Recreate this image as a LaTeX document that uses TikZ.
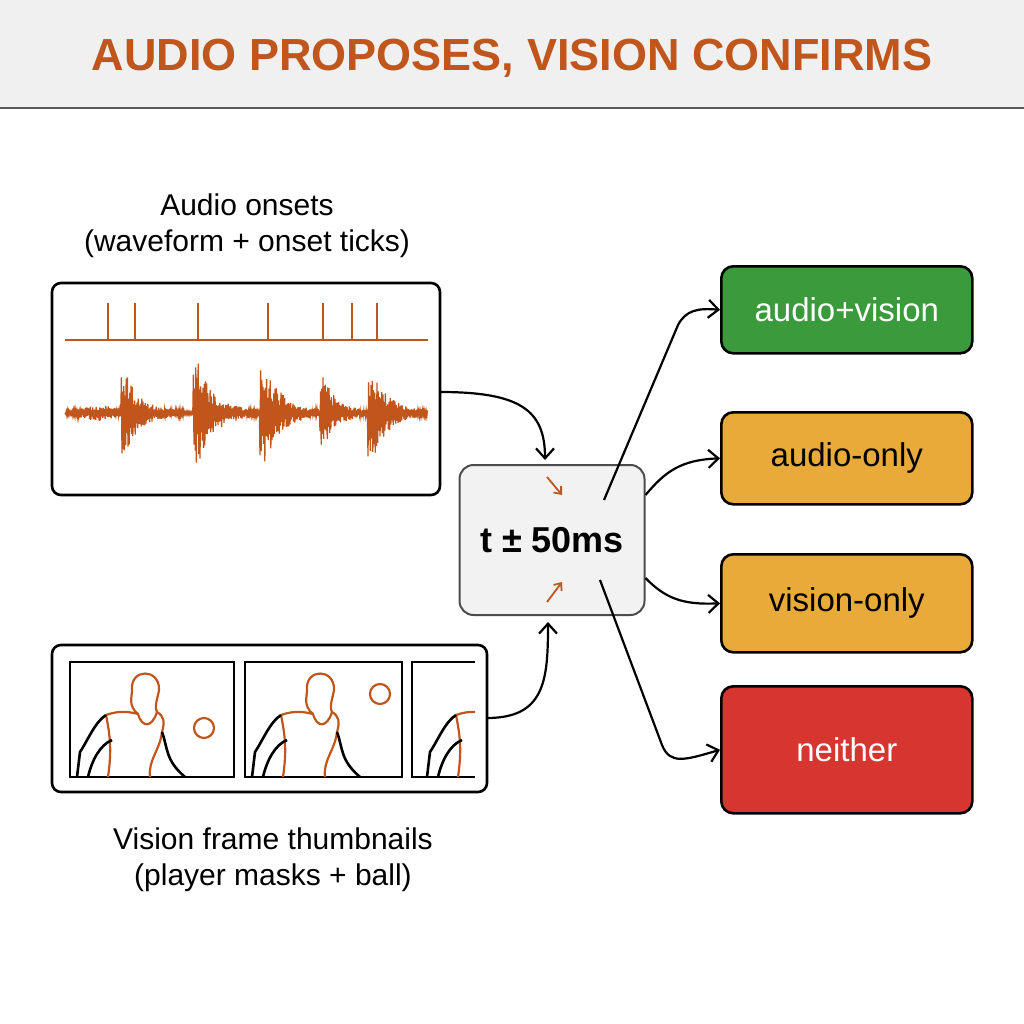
\documentclass[tikz,border=0pt]{standalone}
\usepackage{fontspec}
\setmainfont{Liberation Sans}
\usetikzlibrary{arrows.meta}
\definecolor{orng}{HTML}{C0561C}
\definecolor{grn}{HTML}{3A9A3C}
\definecolor{amb}{HTML}{E8AA38}
\definecolor{rd}{HTML}{D63530}
\begin{document}
\begin{tikzpicture}[x=1pt,y=-1pt,
 box/.style={draw=black,line width=2.6pt,rounded corners=9pt},
 obox/.style={draw=black,line width=2.6pt,rounded corners=12pt,minimum width=251pt,anchor=north west,font=\fontsize{33}{36}\selectfont},
 conn/.style={line width=2.2pt,-{Straight Barb[length=10pt,width=18pt,line width=2.2pt]}},
 lbl/.style={font=\fontsize{30}{36}\selectfont,align=center},
 body/.style={line width=2.2pt,orng},
 arm/.style={line width=2.6pt,black}]
\useasboundingbox (0,0) rectangle (1024,1024);
\fill[gray!12] (0,0) rectangle (1024,108);
\draw[line width=1.2pt,gray!70!black] (0,108) -- (1024,108);
\node[font=\bfseries\fontsize{45}{54}\selectfont,text=orng] (title) at (512,58) {AUDIO PROPOSES, VISION CONFIRMS};
% labels
\node[lbl] (al) at (247,226) {Audio onsets\\(waveform + onset ticks)};
\node[lbl] (vl) at (273,860) {Vision frame thumbnails\\(player masks + ball)};
% audio box
\draw[box] (52,283) rectangle (440,495);
\coordinate (aout) at (440,392);
\draw[orng,line width=2.2pt] (65,340) -- (428,340);
\foreach \t in {108,135,198,268,323,352,377} \draw[orng,line width=2.2pt] (\t,340) -- (\t,303);
\pgfmathsetseed{7}
\pgfmathdeclarefunction{bur}{4}{\pgfmathparse{(#1>#2-4)*(#1<#2+60)*#3*exp(-max(#1-#2,0)/#4)}}
\pgfmathdeclarefunction{env}{1}{\pgfmathparse{2+bur(#1,125,38,16)+bur(#1,197,52,18)+bur(#1,264,50,17)+bur(#1,324,34,14)+bur(#1,372,45,16)+6*exp(-((#1-100)/20)^2)}}
\draw[orng,line width=1.3pt] (65,413) \foreach \i in {1,...,604}{ -- ({65+0.6*\i},{413+env(65+0.6*\i)*(0.35+0.65*rnd)*(2*mod(\i,2)-1)}) };
% vision box
\draw[box] (52,645) rectangle (487,792);
\coordinate (vout) at (487,718);
\foreach \a/\b in {70/234,245/402} \draw[line width=2.6pt] (\a,662) rectangle (\b,777);
\draw[line width=2.6pt] (475,662) -- (412,662) -- (412,777) -- (475,777);
\begin{scope}
\clip (70,662) rectangle (475,777);
\foreach \dx in {0,175,350}{
 \begin{scope}[shift={(\dx,0)}]
 \draw[body] (138,714) .. controls (128,706) and (132,697) .. (132,690) .. controls (130,668) and (160,668) .. (159,690) .. controls (158,697) and (154,706) .. (157,712);
 \draw[body] (106,715) .. controls (120,710) and (130,712) .. (138,714) .. controls (142,728) and (152,728) .. (157,712) .. controls (164,716) and (165,722) .. (162,732) .. controls (160,750) and (148,760) .. (150,777);
 \draw[body] (106,715) .. controls (110,735) and (112,750) .. (108,777);
 \draw[arm] (106,715) .. controls (95,722) and (88,740) .. (80,752) -- (77,777);
 \draw[arm] (112,740) .. controls (100,745) and (92,760) .. (88,777);
 \draw[arm] (162,732) .. controls (168,748) and (165,760) .. (185,777);
 \end{scope}}
\draw[orng,line width=2.2pt] (204,728) circle (10);
\draw[orng,line width=2.2pt] (380,694) circle (10);
\end{scope}
% center
\node[draw=gray!60!black,line width=2pt,fill=gray!10,rounded corners=14pt,minimum width=185pt,minimum height=150pt,font=\bfseries\fontsize{36}{40}\selectfont] (c) at (552,540) {t ± 50ms};
\draw[orng,line width=1.8pt,-{Straight Barb[length=6pt,width=10pt]}] (547,477) -- (562,495);
\draw[orng,line width=1.8pt,-{Straight Barb[length=6pt,width=10pt]}] (547,602) -- (562,582);
% outputs
\node[obox,fill=grn,text=white,minimum height=87pt] (o1) at (720,265) {audio+vision};
\node[obox,fill=amb,minimum height=92pt] (o2) at (720,411) {audio-only};
\node[obox,fill=amb,minimum height=98pt] (o3) at (720,553) {vision-only};
\node[obox,fill=rd,text=white,minimum height=127pt] (o4) at (720,685) {neither};
% connectors
\draw[conn] (aout) .. controls (520,392) and (545,410) .. (545,460);
\draw[conn] (vout) .. controls (545,718) and (548,680) .. (548,622);
\coordinate (s1) at (604,500);
\coordinate (s4) at (600,580);
\draw[conn] (s1) -- (678,325) .. controls (686,310) and (698,308) .. (o1.west);
\draw[conn] (c.east |- 0,495) .. controls (665,472) and (680,460) .. (o2.west);
\draw[conn] (c.east |- 0,578) .. controls (665,598) and (682,605) .. (o3.west);
\draw[conn] (s4) -- (662,745) .. controls (670,765) and (685,760) .. (o4.west);
\end{tikzpicture}
\end{document}
